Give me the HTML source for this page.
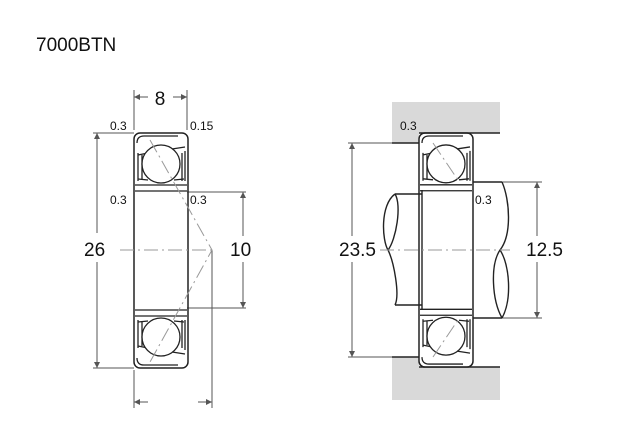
<!DOCTYPE html>
<html><head><meta charset="utf-8"><style>body{margin:0;background:#fff}svg{display:block}</style></head><body>
<svg width="640" height="440" viewBox="0 0 640 440" xmlns="http://www.w3.org/2000/svg" font-family="'Liberation Sans',sans-serif">
<defs>
<g id="half" fill="none" stroke="#222" stroke-width="1.3">
  <path d="M1 52 L53 52"/>
  <path d="M1 58 L53 58"/>
  <path d="M3 10 Q3 3 10 3 L44 3"/>
  <path d="M4 20 L4 48 M8 22 L8 46 M48 20 L48 48 M51 18 L51 48"/>
  <path d="M4 22 L14 20 M38 16 L51 14"/>
  <path d="M4 46 L14 47 M40 47 L50 46"/>
  <circle cx="27" cy="31" r="19" fill="#fff"/>
</g>
<g id="brg">
  <rect x="0" y="0" width="54" height="235" rx="6" fill="none" stroke="#222" stroke-width="1.5"/>
  <use href="#half"/>
  <use href="#half" transform="translate(0,235) scale(1,-1)"/>
</g>
</defs>
<text x="36" y="51" font-size="19" fill="#111">7000BTN</text>
<g stroke="#555" stroke-width="1" fill="none">
  <!-- left dims -->
  <path d="M134 90 L134 130 M187 90 L187 130"/>
  <path d="M134 97 L148 97 M173 97 L187 97"/>
  <path d="M93 133 L134 133 M93 368 L134 368"/>
  <path d="M97 133 L97 233 M97 262 L97 368"/>
  <path d="M187 192 L246 192 M187 308 L246 308"/>
  <path d="M243 192 L243 236 M243 262 L243 308"/>
  <path d="M134 370 L134 408 M212 250 L212 408"/>
  <path d="M134 402 L148 402 M198 402 L212 402"/>
  <!-- right dims -->
  <path d="M348 143 L392 143 M348 357 L392 357"/>
  <path d="M352 143 L352 236 M352 262 L352 357"/>
  <path d="M500 182 L542 182 M500 318 L542 318"/>
  <path d="M537 182 L537 236 M537 262 L537 318"/>
</g>
<g fill="#555">
  <path d="M134 97 l6 -3 v6z M187 97 l-6 -3 v6z"/>
  <path d="M97 133 l-3 6 h6z M97 368 l-3 -6 h6z"/>
  <path d="M243 192 l-3 6 h6z M243 308 l-3 -6 h6z"/>
  <path d="M134 402 l6 -3 v6z M212 402 l-6 -3 v6z"/>
  <path d="M352 143 l-3 6 h6z M352 357 l-3 -6 h6z"/>
  <path d="M537 182 l-3 6 h6z M537 318 l-3 -6 h6z"/>
</g>
<!-- housing -->
<path d="M392 102 H500 V133 H419 V143 H392Z" fill="#d9d9d9"/>
<path d="M392 400 H500 V367 H419 V357 H392Z" fill="#d9d9d9"/>
<path d="M392 143 H419 M419 133 H500 M392 357 H419 M419 367 H500" stroke="#222" stroke-width="1.5"/>
<!-- shaft -->
<g stroke="#222" stroke-width="1.4" fill="none">
  <path d="M395 194 H422 M395 305 H422 M473 182 H502 M473 318 H502"/>
  <path d="M395 194 C380 205 382 240 388 250 C394 262 400 295 395 305"/>
  <path d="M395 194 C402 205 396 240 388 250"/>
  <path d="M502 182 C510 200 512 235 500 250 C490 265 492 300 502 318"/>
  <path d="M500 250 C510 265 512 300 502 318"/>
</g>
<use href="#brg" transform="translate(134,133)"/>
<use href="#brg" transform="translate(419,133) scale(1,0.996)"/>
<path d="M422 190 V310" stroke="#222" stroke-width="1.4"/>
<!-- center & contact lines -->
<g stroke="#999" stroke-width="1" fill="none" stroke-dasharray="14 4 2 4">
  <path d="M120 250 H212"/>
  <path d="M150 140 L212 250 L150 362"/>
  <path d="M380 250 H510"/>
  <path d="M433 143 L458 180 M433 357 L458 320"/>
</g>
<g font-size="12" fill="#111">
  <text x="110" y="130">0.3</text><text x="190" y="130">0.15</text>
  <text x="110" y="204">0.3</text><text x="190" y="204">0.3</text>
  <text x="400" y="130">0.3</text><text x="475" y="204">0.3</text>
</g>
<g font-size="19" fill="#111">
  <text x="160" y="105" text-anchor="middle">8</text>
  <text x="84" y="256">26</text>
  <text x="230" y="256">10</text>
  <text x="339" y="256">23.5</text>
  <text x="526" y="256">12.5</text>
</g>
</svg>
</body></html>
